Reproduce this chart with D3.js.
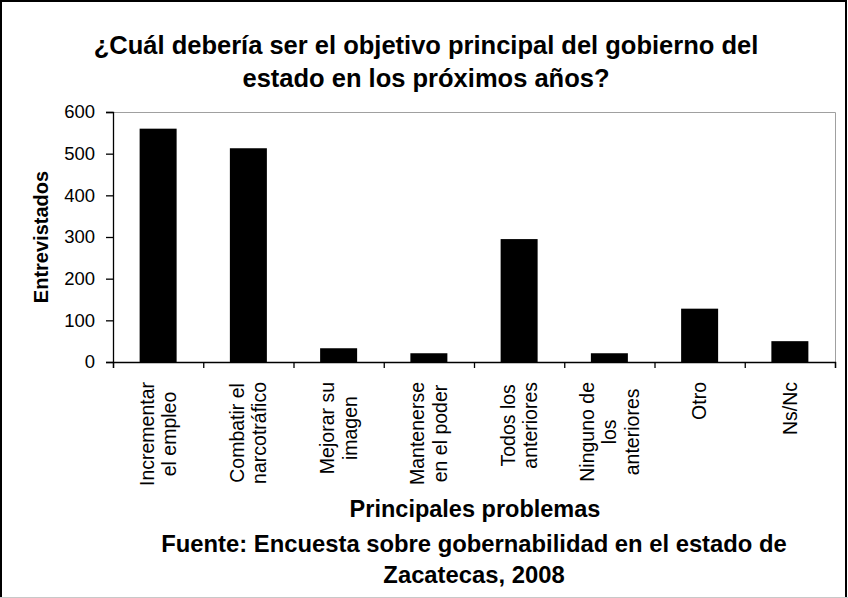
<!DOCTYPE html>
<html>
<head>
<meta charset="utf-8">
<script src="https://cdn.jsdelivr.net/npm/d3@7"></script>
<style>
  body { margin: 0; background: #fff; }
  svg { display: block; font-family: "Liberation Sans", Arial, sans-serif; }
</style>
</head>
<body>
<svg width="848" height="598"></svg>
<script>
// data
const categories = [
  "Incrementar\nel empleo",
  "Combatir el\nnarcotráfico",
  "Mejorar su\nimagen",
  "Mantenerse\nen el poder",
  "Todos los\nanteriores",
  "Ninguno de\nlos\nanteriores",
  "Otro",
  "Ns/Nc"
];
const values = [560, 513, 33, 21, 295, 21, 128, 50];
const yTicks = [0, 100, 200, 300, 400, 500, 600];

const titleLines = [
  "¿Cuál debería ser el objetivo principal del gobierno del",
  "estado en los próximos años?"
];
const xTitle = "Principales problemas";
const yTitle = "Entrevistados";
const sourceLines = [
  "Fuente: Encuesta sobre gobernabilidad en el estado de",
  "Zacatecas, 2008"
];

const svg = d3.select('svg');
const W = 848, H = 598;

// plot area
const pLeft = 113, pRight = 835, pTop = 112, pBottom = 362;

const x = d3.scaleBand()
  .domain(categories)
  .range([pLeft, pRight])
  .padding(0);

const y = d3.scaleLinear()
  .domain([0, 600])
  .range([pBottom, pTop]);

// outer frame
svg.append('path')
  .attr('d', `M1,597 L1,1 L846,1 L846,597`)
  .attr('fill', 'none')
  .attr('stroke', '#000')
  .attr('stroke-width', 2);
svg.append('line')
  .attr('x1', 0).attr('x2', W)
  .attr('y1', 597.5).attr('y2', 597.5)
  .attr('stroke', '#c8c8c8');

// plot area border (top + right, gray)
svg.append('path')
  .attr('d', `M${pLeft},${pTop + 0.5} L${pRight + 0.5},${pTop + 0.5} L${pRight + 0.5},${pBottom}`)
  .attr('fill', 'none')
  .attr('stroke', '#a0a0a0')
  .attr('stroke-width', 1);

// title
svg.append('g').selectAll('text')
  .data(titleLines)
  .join('text')
  .attr('x', 426)
  .attr('y', (d, i) => 54 + i * 33)
  .attr('text-anchor', 'middle')
  .attr('font-size', 25.5)
  .attr('font-weight', 'bold')
  .text(d => d);

// bars
const barW = x.bandwidth() * 0.41;
svg.append('g').selectAll('rect')
  .data(values)
  .join('rect')
  .attr('x', (d, i) => x(categories[i]) + x.bandwidth() / 2 - barW / 2)
  .attr('y', d => y(d))
  .attr('width', barW)
  .attr('height', d => y(0) - y(d))
  .attr('fill', '#000');

// y axis
const yAxis = svg.append('g')
  .attr('transform', `translate(${pLeft},0)`)
  .call(d3.axisLeft(y).tickValues(yTicks).tickSize(7).tickPadding(11));
yAxis.select('.domain').attr('stroke', '#000').attr('stroke-width', 1.3);
yAxis.selectAll('.tick line').attr('stroke', '#000').attr('stroke-width', 1.3);
yAxis.selectAll('.tick text')
  .attr('font-size', 18.5)
  .attr('font-family', '"Liberation Sans", Arial, sans-serif')
  .attr('fill', '#000');

// x axis: ticks on category boundaries, labels drawn separately
const boundaries = categories.map(c => x(c)).concat([pRight]);
const xAxis = svg.append('g')
  .attr('transform', `translate(0,${pBottom})`)
  .call(d3.axisBottom(d3.scaleLinear().domain([pLeft, pRight]).range([pLeft, pRight]))
    .tickValues(boundaries).tickSize(6).tickFormat(''));
xAxis.select('.domain').attr('stroke', '#000').attr('stroke-width', 1.3);
xAxis.selectAll('.tick line').attr('stroke', '#000').attr('stroke-width', 1.3);

// rotated category labels: block top at y=382, lines centred in the block
const lfs = 19.5, lh = 22.5, labelTop = 382;
categories.forEach(c => {
  const lines = c.split('\n');
  const g = svg.append('g');
  const texts = g.selectAll('text')
    .data(lines)
    .join('text')
    .attr('text-anchor', 'middle')
    .attr('font-size', lfs)
    .attr('x', 0)
    .attr('y', (d, i) => (i - (lines.length - 1) / 2) * lh + 0.35 * lfs)
    .text(d => d);
  let maxLen = 0;
  texts.each(function () { maxLen = Math.max(maxLen, this.getComputedTextLength()); });
  g.attr('transform', `translate(${x(c) + x.bandwidth() / 2},${labelTop + maxLen / 2}) rotate(-90)`);
});

// y title
svg.append('text')
  .attr('transform', `translate(48,${(pTop + pBottom) / 2}) rotate(-90)`)
  .attr('text-anchor', 'middle')
  .attr('font-size', 20)
  .attr('font-weight', 'bold')
  .text(yTitle);

// x title
svg.append('text')
  .attr('x', 475)
  .attr('y', 517)
  .attr('text-anchor', 'middle')
  .attr('font-size', 23.5)
  .attr('font-weight', 'bold')
  .text(xTitle);

// source
svg.append('g').selectAll('text')
  .data(sourceLines)
  .join('text')
  .attr('x', 474)
  .attr('y', (d, i) => 552 + i * 31)
  .attr('text-anchor', 'middle')
  .attr('font-size', 23.8)
  .attr('font-weight', 'bold')
  .text(d => d);
</script>
</body>
</html>
